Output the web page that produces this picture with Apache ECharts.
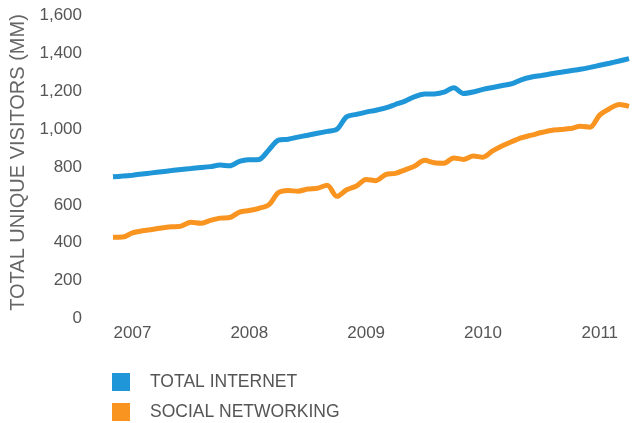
<!DOCTYPE html>
<html>
<head>
<meta charset="utf-8">
<script src="https://cdn.jsdelivr.net/npm/echarts@6/dist/echarts.min.js"></script>
<style>
  html, body { margin: 0; padding: 0; background: #fff; }
  #chart { width: 632px; height: 423px; }
</style>
</head>
<body>
<div id="chart"></div>
<script>
// monthly points, Nov 2006 .. Apr 2011
const months = []
for (let y = 2006, m = 11; months.length < 54; m++) {
  if (m > 12) { m = 1; y++ }
  months.push(y + '-' + (m < 10 ? '0' + m : m))
}

const totalInternet = [
  748, 752, 757, 763, 769, 775, 781, 787, 792, 797,
  802, 810, 806, 830, 838, 840, 890, 942, 947, 958,
  968, 978, 988, 999, 1065, 1078, 1090, 1100, 1112, 1130,
  1148, 1172, 1185, 1186, 1195, 1218, 1188, 1196, 1210, 1220,
  1230, 1240, 1262, 1275, 1283, 1292, 1300, 1308, 1316, 1326,
  1337, 1348, 1360, 1372
]

const socialNetworking = [
  429, 430, 452, 463, 470, 478, 484, 488, 508, 503,
  518, 530, 533, 562, 570, 582, 600, 665, 676, 672,
  684, 688, 704, 645, 680, 700, 734, 728, 760, 766,
  785, 805, 835, 822, 820, 848, 840, 858, 852, 885,
  912, 935, 955, 968, 982, 993, 998, 1003, 1015, 1010,
  1075, 1108, 1130, 1120
]

const yTicks = { min: 0, max: 1600, interval: 200 }

const chart = echarts.init(document.getElementById('chart'))
chart.setOption({
  animation: false,
  color: ['#1f96d8', '#f8941f'],
  textStyle: { fontFamily: 'Liberation Sans, Arial, sans-serif' },
  grid: { left: 113, right: 3, top: 15.5, bottom: 104.5, outerBoundsMode: 'none' },
  legend: {
    orient: 'vertical',
    left: 112,
    top: 373,
    padding: 0,
    icon: 'rect',
    itemWidth: 18,
    itemHeight: 18,
    itemGap: 12,
    textStyle: { color: '#555', fontSize: 17.5, padding: [0, 0, 0, 15] },
    data: ['TOTAL INTERNET', 'SOCIAL NETWORKING']
  },
  xAxis: {
    type: 'category',
    data: months,
    boundaryGap: false,
    axisLine: { show: false },
    axisTick: { show: false },
    axisLabel: {
      color: '#555',
      fontSize: 17,
      margin: 6,
      interval: (i, v) => v.endsWith('-01'),
      formatter: v => v.slice(0, 4)
    }
  },
  yAxis: {
    type: 'value',
    min: yTicks.min,
    max: yTicks.max,
    interval: yTicks.interval,
    name: 'TOTAL UNIQUE VISITORS (MM)',
    nameLocation: 'middle',
    nameGap: 85,
    nameTextStyle: { color: '#666', fontSize: 20, padding: [0, 0, 0, 9] },
    splitLine: { show: false },
    axisLine: { show: false },
    axisTick: { show: false },
    axisLabel: {
      color: '#555',
      fontSize: 17,
      margin: 31,
      formatter: v => v.toLocaleString('en-US')
    }
  },
  series: [
    {
      name: 'TOTAL INTERNET',
      type: 'line',
      data: totalInternet,
      smooth: 0.3,
      showSymbol: false,
      lineStyle: { width: 5 }
    },
    {
      name: 'SOCIAL NETWORKING',
      type: 'line',
      data: socialNetworking,
      smooth: 0.3,
      showSymbol: false,
      lineStyle: { width: 5 }
    }
  ]
})
</script>
</body>
</html>
